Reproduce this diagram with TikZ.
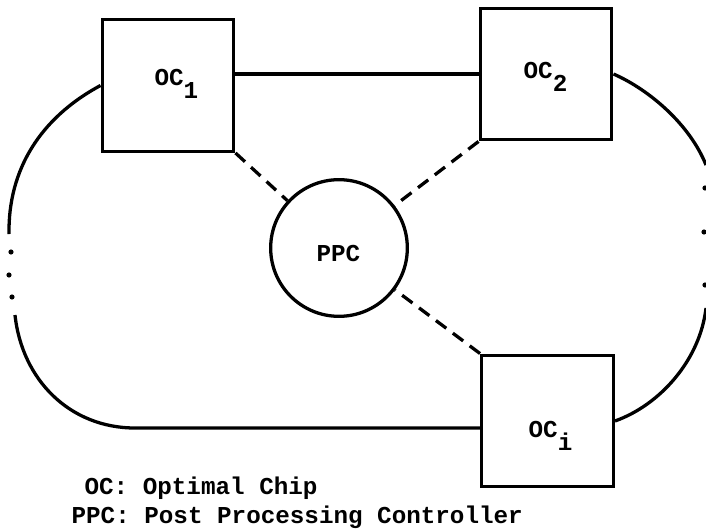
\documentclass[tikz,border=0pt]{standalone}
\usepackage{fontspec}
\newfontfamily\chipfont{Liberation Mono}
\tikzset{
  chip/.style={draw, rectangle, minimum width=3.95cm, minimum height=3.95cm, inner sep=0pt},
  ctrl/.style={draw, circle, minimum size=4.1cm, inner sep=0pt},
  lbl/.style={anchor=base west, inner sep=0pt, font=\chipfont\bfseries\fontsize{20.7}{25}\selectfont},
  link/.style={dash pattern=on 11pt off 7pt},
}
\newcommand{\ocsub}[1]{\raisebox{-0.55em}{#1}}
\begin{document}
\begin{tikzpicture}[x=0.03cm, y=-0.03cm, line width=2.8pt]
  \useasboundingbox (0,0) rectangle (706,531);
  % chips and controller
  \node[chip] (oc1) at (168,85.5) {};
  \node[chip] (oc2) at (546,74) {};
  \node[chip] (oci) at (547.5,421) {};
  \node[ctrl] (ppc) at (339,248) {};
  \node[lbl] (oc1lbl) at (153,85) {OC\ocsub{1}};
  \node[lbl] (oc2lbl) at (522,78) {OC\ocsub{2}};
  \node[lbl] (ocilbl) at (527,437) {OC\ocsub{i}};
  \node[lbl] (ppclbl) at (315,261) {PPC};
  % ring between the chips
  \coordinate (lgapT) at (9,234);
  \coordinate (lgapB) at (15,315);
  \coordinate (lcorner) at (135,428);
  \coordinate (rgapT) at (706,165);
  \coordinate (rgapB) at (706,308);
  \draw (oc1.east |- oc2.west) -- (oc2.west);
  \draw (oc1.west) .. controls (40,118) and (8,170) .. (lgapT);
  \draw (lgapB) .. controls (22,380) and (70,428) .. (lcorner) -- (lcorner -| oci.west);
  \draw (oc2.east) .. controls (650,90) and (690,125) .. (rgapT);
  \draw (rgapB) .. controls (700,360) and (660,405) .. (oci.east);
  \fill (11,252) circle (2.2pt) (9,275) circle (2.2pt) (12,297) circle (2.2pt);
  \fill (705,188) circle (2.2pt) (704,232) circle (2.2pt) (705,285) circle (2.2pt);
  % links to the controller
  \draw[link] (oc1.south east) -- (ppc);
  \draw[link] (oc2.south west) -- (ppc);
  \draw[link] (oci.north west) -- (ppc);
  % key
  \node[lbl] (key1) at (83,494) {OC: Optimal Chip};
  \node[lbl] (key2) at (70,523) {PPC: Post Processing Controller};
\end{tikzpicture}
\end{document}
